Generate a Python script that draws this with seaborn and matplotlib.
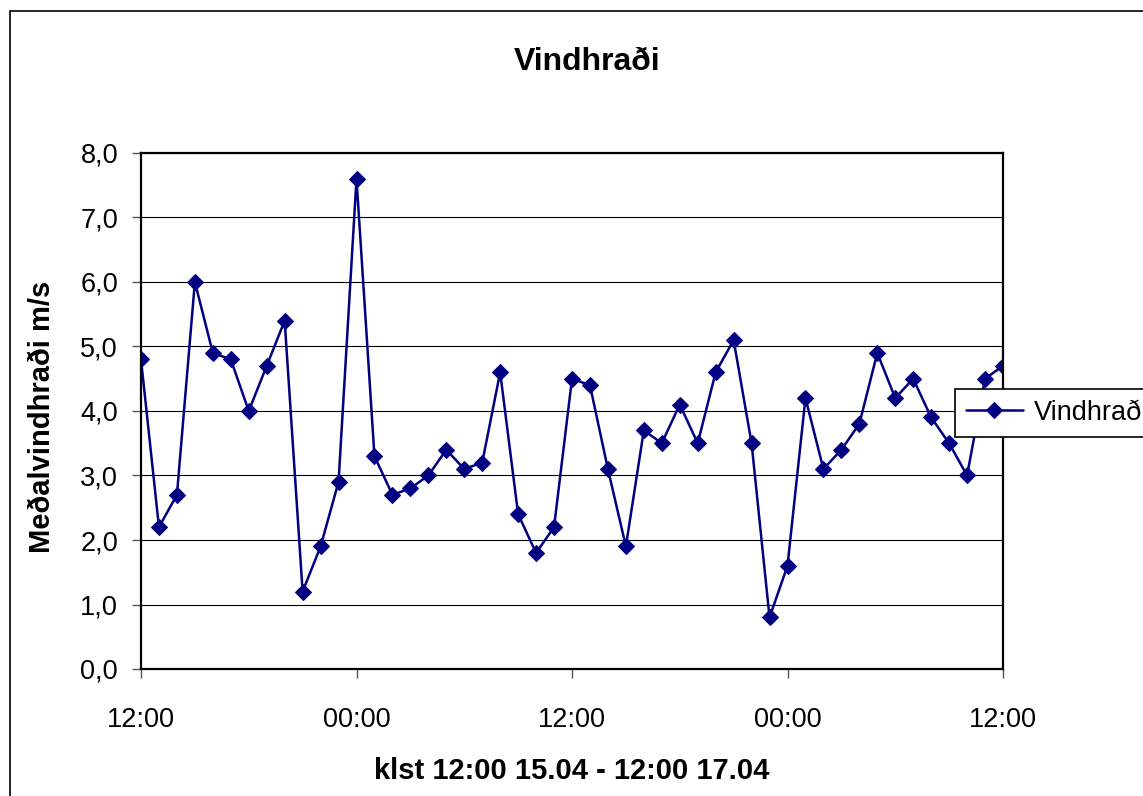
import numpy as np
import pandas as pd
import matplotlib
matplotlib.use("Agg")
import matplotlib.pyplot as plt
from matplotlib.patches import Rectangle
import seaborn as sns

# ── Data ──────────────────────────────────────────────────────
# hourly mean wind speed, 12:00 15.04 -> 12:00 17.04
hours = list(range(49))
wind = [4.8, 2.2, 2.7, 6.0, 4.9, 4.8, 4.0, 4.7, 5.4, 1.2, 1.9, 2.9,
        7.6, 3.3, 2.7, 2.8, 3.0, 3.4, 3.1, 3.2, 4.6, 2.4, 1.8, 2.2,
        4.5, 4.4, 3.1, 1.9, 3.7, 3.5, 4.1, 3.5, 4.6, 5.1, 3.5, 0.8,
        1.6, 4.2, 3.1, 3.4, 3.8, 4.9, 4.2, 4.5, 3.9, 3.5, 3.0, 4.5,
        4.7]
xtick_pos = [0, 12, 24, 36, 48]
xtick_labels = ["12:00", "00:00", "12:00", "00:00", "12:00"]
ytick_vals = [0, 1, 2, 3, 4, 5, 6, 7, 8]
series_name = "Vindhraði"

df = pd.DataFrame({"klst": hours, "vindur": wind})

# ── Style ─────────────────────────────────────────────────────
sns.set_style("white")
plt.rcParams['font.family'] = ['Liberation Sans', 'DejaVu Sans']
plt.rcParams['text.color'] = 'black'
plt.rcParams['axes.labelcolor'] = 'black'

fig = plt.figure(figsize=(11.43, 7.96), dpi=100)
ax = fig.add_axes([141 / 1143, 1 - 669 / 796, 862 / 1143, 516 / 796])

sns.lineplot(data=df, x="klst", y="vindur", ax=ax, color="#000080",
             linewidth=1.8, marker="D", markersize=8.5,
             markeredgecolor="#000080", markerfacecolor="#000080",
             label=series_name)

# ── Axes ──────────────────────────────────────────────────────
ax.set_xlim(0, 48)
ax.set_ylim(0, 8)
ax.set_xticks(xtick_pos)
ax.set_xticklabels(xtick_labels)
ax.set_yticks(ytick_vals)
ax.set_yticklabels([f"{v:.1f}".replace(".", ",") for v in ytick_vals])
ax.tick_params(axis="both", labelsize=19.5, direction="out", length=6.5,
               width=1, color="#555555", labelcolor="black",
               left=True, bottom=True)
ax.tick_params(axis="y", pad=10)
ax.tick_params(axis="x", pad=21)

ax.yaxis.grid(True, color="black", linewidth=0.8)
ax.xaxis.grid(False)
ax.set_axisbelow(True)
for sp in ax.spines.values():
    sp.set_color("black")
    sp.set_linewidth(1.6)

ax.set_xlabel("klst 12:00 15.04 - 12:00 17.04", fontsize=21,
              fontweight="bold", va="center")
ax.xaxis.set_label_coords(0.5, (669 - 771) / 516)
ax.set_ylabel("Meðalvindhraði m/s", fontsize=21, fontweight="bold",
              va="center")
ax.yaxis.set_label_coords((42 - 141) / 862, (669 - 417) / 516)

fig.text(587 / 1143, 1 - 62 / 796, "Vindhraði", fontsize=23,
         fontweight="bold", ha="center", va="center")

leg = ax.legend(loc="upper left", bbox_to_anchor=(955 / 1143, 1 - 389 / 796),
                bbox_transform=fig.transFigure, borderaxespad=0,
                fancybox=False, framealpha=1, edgecolor="black",
                fontsize=19.5, handlelength=2.1, handletextpad=0.4,
                borderpad=0.4)
leg.get_frame().set_linewidth(1.2)

# outer chart-area border (cut off at right/bottom like the source)
fig.patches.append(Rectangle((10 / 1143, -0.1), 1.2, 1 - 11 / 796 + 0.1,
                             transform=fig.transFigure, fill=False,
                             edgecolor="black", linewidth=1.2))

fig.savefig("out.png", dpi=100)
